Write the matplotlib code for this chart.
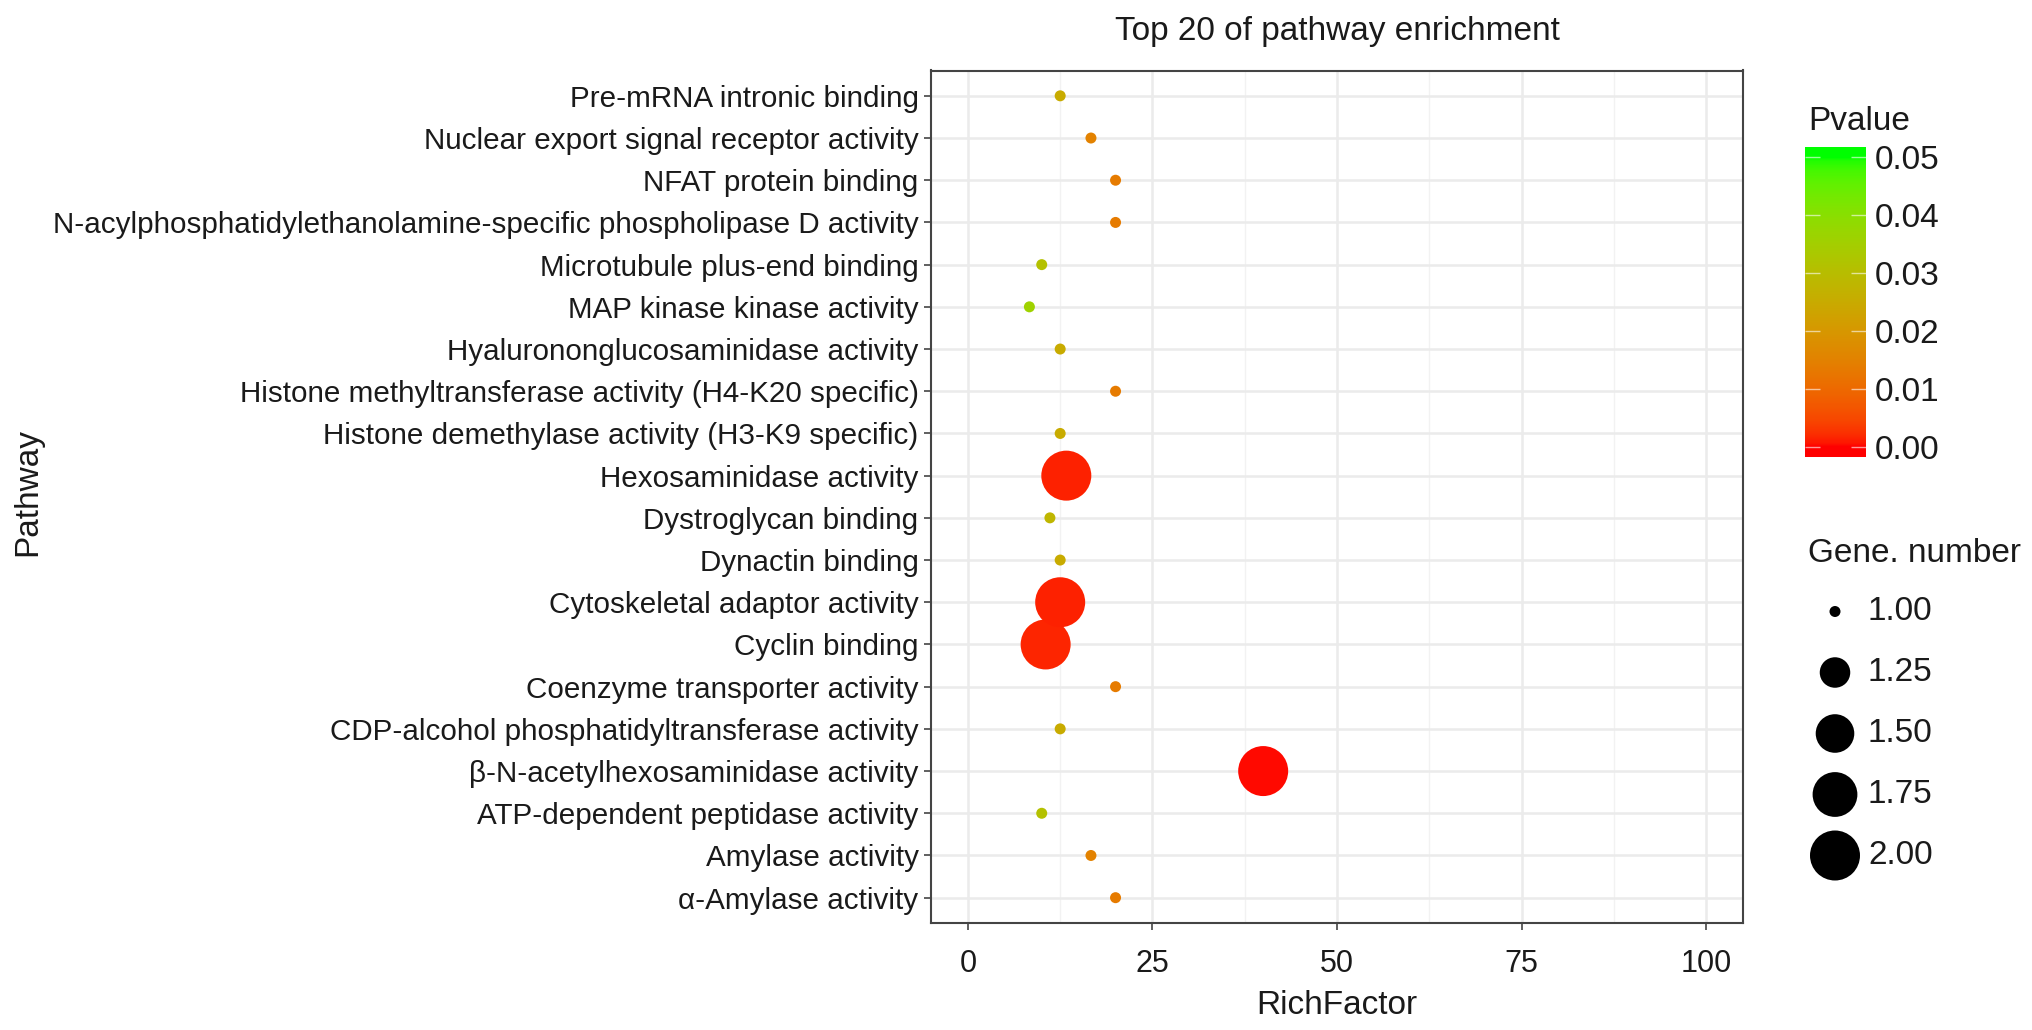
import numpy as np
import matplotlib
matplotlib.use("Agg")
import matplotlib.pyplot as plt
from matplotlib.colors import ListedColormap, Normalize

plt.rcParams["font.family"] = ["Liberation Sans", "DejaVu Sans"]

# data, bottom row first
pathways = [
    "\u03b1-Amylase activity",
    "Amylase activity",
    "ATP-dependent peptidase activity",
    "\u03b2-N-acetylhexosaminidase activity",
    "CDP-alcohol phosphatidyltransferase activity",
    "Coenzyme transporter activity",
    "Cyclin binding",
    "Cytoskeletal adaptor activity",
    "Dynactin binding",
    "Dystroglycan binding",
    "Hexosaminidase activity",
    "Histone demethylase activity (H3-K9 specific)",
    "Histone methyltransferase activity (H4-K20 specific)",
    "Hyalurononglucosaminidase activity",
    "MAP kinase kinase activity",
    "Microtubule plus-end binding",
    "N-acylphosphatidylethanolamine-specific phospholipase D activity",
    "NFAT protein binding",
    "Nuclear export signal receptor activity",
    "Pre-mRNA intronic binding",
]
rich_factor = [20.0, 16.67, 10.0, 40.0, 12.5, 20.0, 10.53, 12.5, 12.5, 11.11,
               13.33, 12.5, 20.0, 12.5, 8.33, 10.0, 20.0, 20.0, 16.67, 12.5]
pvalue = [0.0135, 0.0150, 0.031, 0.0003, 0.025, 0.0135, 0.0015, 0.0013, 0.025, 0.028,
          0.0013, 0.025, 0.0135, 0.025, 0.036, 0.031, 0.0135, 0.0135, 0.0150, 0.025]
gene_number = [1, 1, 1, 2, 1, 1, 2, 2, 1, 1, 2, 1, 1, 1, 1, 1, 1, 1, 1, 1]

x_ticks = [0, 25, 50, 75, 100]
p_ticks = [0.00, 0.01, 0.02, 0.03, 0.04, 0.05]
size_levels = [1.00, 1.25, 1.50, 1.75, 2.00]

W, H, DPI = 2032, 1030, 100


# red -> green gradient interpolated in CIELAB, like ggplot's scale_colour_gradient
def srgb_to_lab(rgb):
    rgb = np.asarray(rgb, float)
    lin = np.where(rgb <= 0.04045, rgb / 12.92, ((rgb + 0.055) / 1.055) ** 2.4)
    m = np.array([[0.4124, 0.3576, 0.1805],
                  [0.2126, 0.7152, 0.0722],
                  [0.0193, 0.1192, 0.9505]])
    xyz = lin @ m.T / np.array([0.95047, 1.0, 1.08883])
    f = np.where(xyz > 0.008856, np.cbrt(xyz), 7.787 * xyz + 16 / 116)
    return np.stack([116 * f[..., 1] - 16,
                     500 * (f[..., 0] - f[..., 1]),
                     200 * (f[..., 1] - f[..., 2])], axis=-1)


def lab_to_srgb(lab):
    L, a, b = lab[..., 0], lab[..., 1], lab[..., 2]
    fy = (L + 16) / 116
    fx = fy + a / 500
    fz = fy - b / 200
    f = np.stack([fx, fy, fz], axis=-1)
    xyz = np.where(f > 0.206893, f ** 3, (f - 16 / 116) / 7.787)
    xyz = xyz * np.array([0.95047, 1.0, 1.08883])
    minv = np.array([[3.2406, -1.5372, -0.4986],
                     [-0.9689, 1.8758, 0.0415],
                     [0.0557, -0.2040, 1.0570]])
    lin = np.clip(xyz @ minv.T, 0, 1)
    rgb = np.where(lin <= 0.0031308, 12.92 * lin, 1.055 * lin ** (1 / 2.4) - 0.055)
    return np.clip(rgb, 0, 1)


t = np.linspace(0, 1, 256)[:, None]
lab_lo = srgb_to_lab([1.0, 0.0, 0.0])
lab_hi = srgb_to_lab([0.0, 1.0, 0.0])
cmap = ListedColormap(lab_to_srgb(lab_lo + (lab_hi - lab_lo) * t))
norm = Normalize(0, 0.05)


def diam_px(n):
    # area scale, 1 gene -> 11 px, 2 genes -> 50 px
    return 11 + 39 * np.sqrt(np.clip((np.asarray(n, float) - 1.0), 0, 1))


def size_pt2(n):
    return (diam_px(n) * 72 / DPI) ** 2


fig = plt.figure(figsize=(W / DPI, H / DPI), dpi=DPI)
ax = fig.add_axes([931 / W, 1 - 923 / H, (1743 - 931) / W, (923 - 70.5) / H])

ypos = np.arange(len(pathways))
ax.scatter(rich_factor, ypos, s=size_pt2(gene_number), c=pvalue, cmap=cmap,
           norm=norm, edgecolors="none", zorder=3)

ax.set_xlim(-5, 105)
ax.set_ylim(-0.6, len(pathways) - 0.4)
ax.set_xticks(x_ticks)
ax.set_xticks([12.5, 37.5, 62.5, 87.5], minor=True)
ax.set_yticks(ypos)
ax.set_yticklabels(pathways)
ax.grid(which="major", color="#EBEBEB", linewidth=1.8, zorder=0)
ax.grid(which="minor", axis="x", color="#F2F2F2", linewidth=1.0, zorder=0)
ax.set_axisbelow(True)
for sp in ax.spines.values():
    sp.set_color("#444444")
    sp.set_linewidth(1.5)
ax.tick_params(axis="both", which="major", length=5, width=1.2, color="#444444",
               labelcolor="#1a1a1a")
ax.tick_params(axis="y", labelsize=21.3, pad=4)
ax.tick_params(axis="x", labelsize=22, pad=14)
ax.tick_params(which="minor", length=0)

ax.set_xlabel("RichFactor", fontsize=24, color="#1a1a1a", labelpad=8)
fig.text(28 / W, 1 - 492 / H, "Pathway", rotation=90, fontsize=24,
         color="#1a1a1a", ha="center", va="center")
ax.set_title("Top 20 of pathway enrichment", fontsize=24, color="#1a1a1a", pad=22)

# colour bar
cax = fig.add_axes([1805 / W, 1 - 456.7 / H, 61 / W, 310 / H])
pad = 0.00172
grad = np.linspace(-pad, 0.05 + pad, 300)[:, None]
cax.imshow(grad, cmap=cmap, norm=norm, aspect="auto", origin="lower",
           extent=[0, 1, -pad, 0.05 + pad])
cax.set_xlim(0, 1)
cax.set_ylim(-pad, 0.05 + pad)
cax.set_xticks([])
cax.set_yticks(p_ticks)
cax.set_yticklabels([f"{v:.2f}" for v in p_ticks])
cax.tick_params(axis="y", left=True, right=True, direction="in", color="#FFFFFF99",
                length=11, width=1.0, labelleft=False, labelright=True,
                labelsize=24, labelcolor="#1a1a1a", pad=6)
for sp in cax.spines.values():
    sp.set_visible(False)
fig.text(1808 / W, 1 - 122 / H, "Pvalue", fontsize=24, color="#1a1a1a",
         ha="left", va="center")

# size legend
lax = fig.add_axes([1790 / W, 1 - 886 / H, 242 / W, 305 / H])
lax.set_xlim(0, 242)
lax.set_ylim(len(size_levels) - 0.5, -0.5)
lax.axis("off")
lpos = np.arange(len(size_levels))
lax.scatter(np.full(len(size_levels), 45), lpos, s=size_pt2(size_levels),
            color="black", edgecolors="none")
for i, v in enumerate(size_levels):
    lax.text(78, i, f"{v:.2f}", fontsize=24, color="#1a1a1a", ha="left", va="center")
fig.text(1808 / W, 1 - 553 / H, "Gene. number", fontsize=24, color="#1a1a1a",
         ha="left", va="center")

fig.savefig("out.png", dpi=DPI, facecolor="white")
